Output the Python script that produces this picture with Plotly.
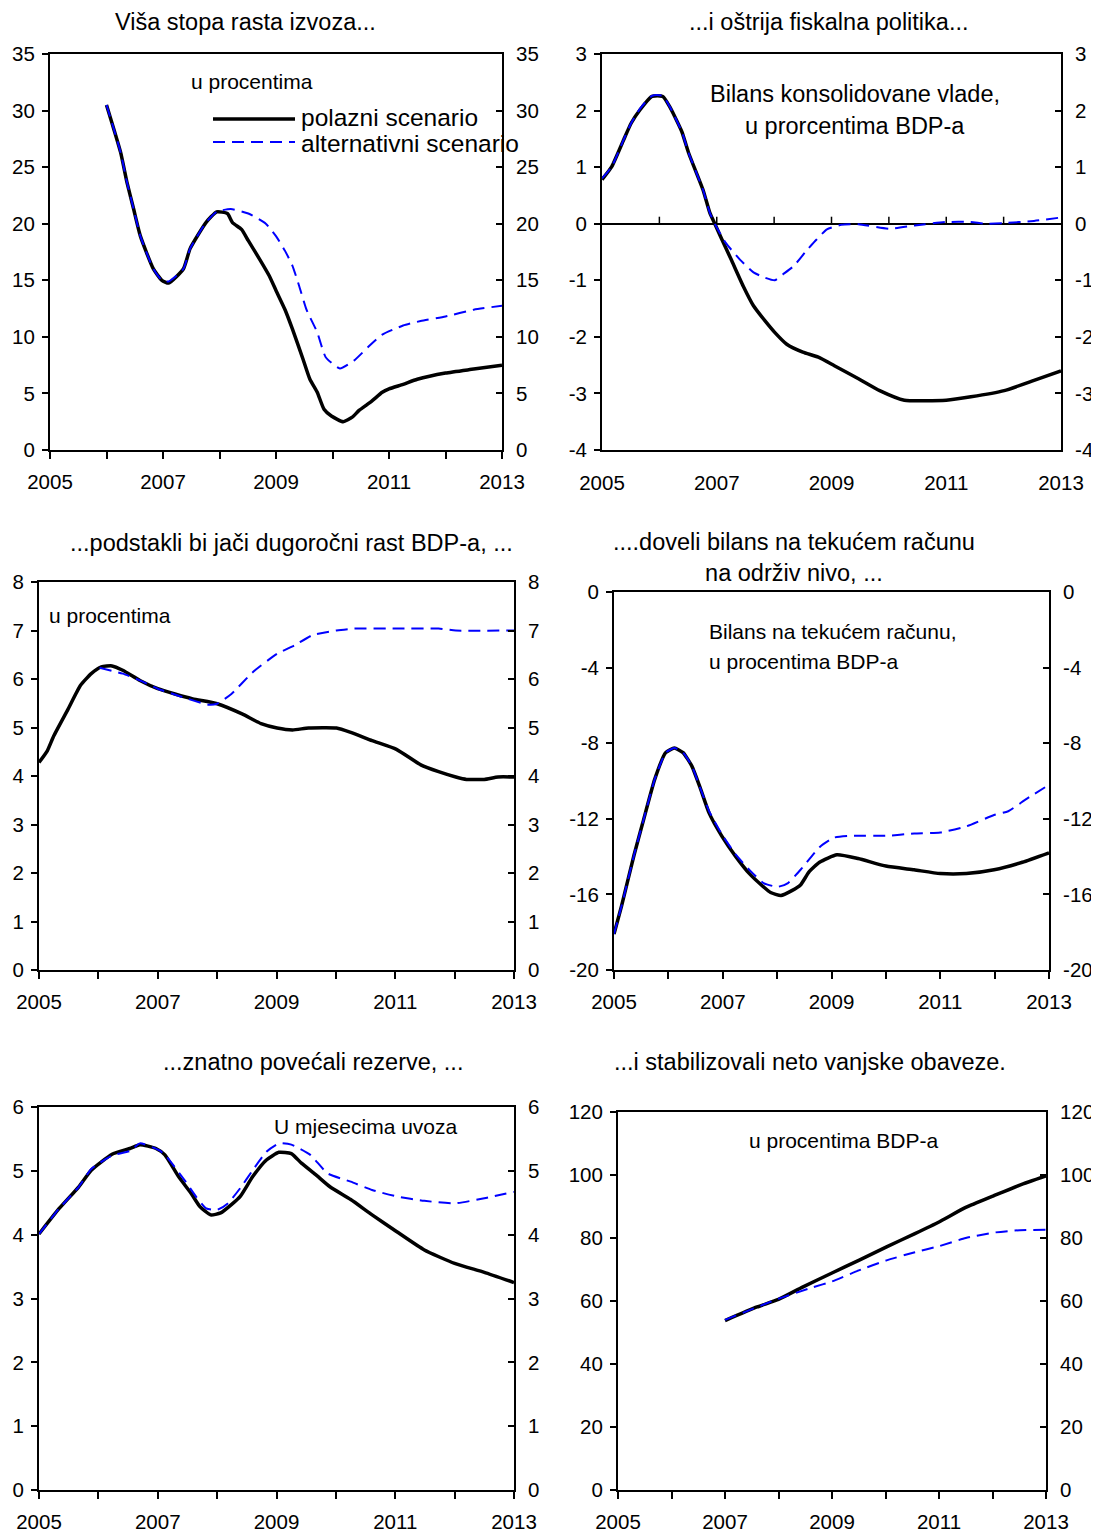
import plotly.graph_objects as go

# ---------------- data ----------------
YEARS = [2005, 2006, 2007, 2008, 2009, 2010, 2011, 2012, 2013]
YEAR_LABELS = ["2005", "", "2007", "", "2009", "", "2011", "", "2013"]

TITLES = [
    "Viša stopa rasta izvoza...",
    "...i oštrija fiskalna politika...",
    "...podstakli bi jači dugoročni rast BDP-a, ...",
    "....doveli bilans na tekućem računu<br>na održiv nivo, ...",
    "...znatno povećali rezerve, ...",
    "...i stabilizovali neto vanjske obaveze.",
]
SERIES_NAMES = ["polazni scenario", "alternativni scenario"]

# Panel 1: export growth
p1_base_x = [2006.0, 2006.25, 2006.36, 2006.48, 2006.6, 2006.83, 2006.98, 2007.1, 2007.36, 2007.48,
             2007.76, 2007.95, 2008.14, 2008.23, 2008.39, 2008.51, 2008.73, 2008.88, 2009.0, 2009.16,
             2009.29, 2009.48, 2009.6, 2009.73, 2009.85, 2009.98, 2010.19, 2010.35, 2010.47, 2010.69,
             2010.88, 2011.0, 2011.25, 2011.5, 2012.0, 2012.5, 2013.0]
p1_base_y = [30.5, 26.3, 23.7, 21.3, 18.9, 16.0, 15.0, 14.75, 16.0, 17.8,
             20.1, 21.05, 20.9, 20.1, 19.5, 18.5, 16.7, 15.4, 14.1, 12.4,
             10.7, 8.0, 6.25, 5.1, 3.6, 3.0, 2.5, 2.9, 3.5, 4.3,
             5.1, 5.4, 5.8, 6.25, 6.8, 7.15, 7.5]
p1_alt_x = [2006.0, 2006.25, 2006.36, 2006.48, 2006.6, 2006.83, 2006.98, 2007.1, 2007.36, 2007.48,
            2007.76, 2007.95, 2008.2, 2008.51, 2008.82, 2009.0, 2009.16, 2009.29, 2009.41, 2009.54,
            2009.73, 2009.88, 2010.13, 2010.38, 2010.63, 2010.88, 2011.25, 2011.56, 2012.0, 2012.5, 2013.0]
p1_alt_y = [30.5, 26.3, 23.7, 21.3, 18.9, 16.0, 15.0, 14.9, 16.0, 17.8,
            20.1, 21.05, 21.3, 20.9, 20.0, 18.9, 17.6, 16.3, 14.5, 12.4,
            10.4, 8.2, 7.2, 7.9, 9.1, 10.2, 11.0, 11.4, 11.8, 12.4, 12.75]

# Panel 2: fiscal balance
p2_base_x = [2005.0, 2005.17, 2005.38, 2005.51, 2005.66, 2005.87, 2006.06, 2006.18, 2006.39, 2006.51,
             2006.76, 2006.88, 2006.97, 2007.09, 2007.25, 2007.46, 2007.64, 2007.86, 2008.01, 2008.22,
             2008.5, 2008.77, 2009.05, 2009.47, 2009.84, 2010.27, 2011.0, 2011.43, 2012.01, 2012.53, 2013.0]
p2_base_y = [0.78, 1.01, 1.49, 1.78, 2.01, 2.25, 2.25, 2.07, 1.63, 1.25,
             0.6, 0.19, -0.01, -0.28, -0.63, -1.1, -1.45, -1.74, -1.92, -2.13,
             -2.27, -2.36, -2.51, -2.74, -2.95, -3.12, -3.12, -3.06, -2.95, -2.77, -2.6]
p2_alt_x = [2005.0, 2005.17, 2005.38, 2005.51, 2005.66, 2005.87, 2006.06, 2006.18, 2006.39, 2006.51,
            2006.76, 2006.88, 2006.97, 2007.15, 2007.4, 2007.64, 2007.83, 2008.01, 2008.16, 2008.34,
            2008.56, 2008.74, 2008.92, 2009.17, 2009.47, 2010.02, 2010.45, 2011.0, 2011.43, 2011.67,
            2012.0, 2012.53, 2013.0]
p2_alt_y = [0.8, 1.01, 1.49, 1.78, 2.03, 2.26, 2.26, 2.07, 1.63, 1.25,
            0.6, 0.19, -0.01, -0.33, -0.63, -0.86, -0.95, -1.0, -0.89, -0.75,
            -0.48, -0.28, -0.1, -0.02, -0.01, -0.09, -0.03, 0.03, 0.03, 0.0,
            0.01, 0.05, 0.11]

# Panel 3: GDP growth
p3_base_x = [2005.0, 2005.14, 2005.25, 2005.49, 2005.7, 2005.88, 2006.05, 2006.23, 2006.41, 2006.7,
             2007.0, 2007.29, 2007.59, 2008.0, 2008.42, 2008.74, 2009.01, 2009.27, 2009.54, 2010.01,
             2010.25, 2010.61, 2011.02, 2011.43, 2011.73, 2012.02, 2012.2, 2012.5, 2012.73, 2013.0]
p3_base_y = [4.28, 4.52, 4.83, 5.38, 5.87, 6.11, 6.25, 6.27, 6.18, 5.97,
             5.8, 5.69, 5.59, 5.49, 5.28, 5.08, 4.99, 4.95, 4.99, 4.99,
             4.9, 4.73, 4.55, 4.23, 4.09, 3.98, 3.93, 3.93, 3.98, 3.98]
p3_alt_x = [2006.02, 2006.41, 2006.7, 2007.0, 2007.41, 2007.85, 2008.0, 2008.24, 2008.6, 2009.01,
            2009.3, 2009.6, 2010.01, 2010.31, 2011.02, 2011.73, 2012.02, 2013.0]
p3_alt_y = [6.23, 6.11, 5.97, 5.8, 5.63, 5.47, 5.49, 5.69, 6.14, 6.52,
            6.69, 6.9, 7.0, 7.04, 7.04, 7.04, 7.0, 7.0]

# Panel 4: current account balance
p4_base_x = [2005.0, 2005.14, 2005.37, 2005.53, 2005.75, 2005.95, 2006.11, 2006.27, 2006.43, 2006.59,
             2006.75, 2006.98, 2007.24, 2007.49, 2007.75, 2007.88, 2008.07, 2008.27, 2008.43, 2008.59,
             2008.78, 2009.1, 2009.49, 2010.0, 2010.52, 2011.0, 2011.48, 2011.99, 2012.51, 2013.0]
p4_base_y = [-18.1, -16.6, -13.9, -12.2, -9.9, -8.5, -8.26, -8.5, -9.2, -10.4,
             -11.7, -12.9, -14.0, -14.9, -15.6, -15.9, -16.06, -15.8, -15.5, -14.8,
             -14.3, -13.9, -14.1, -14.5, -14.7, -14.9, -14.9, -14.7, -14.3, -13.8]
p4_alt_x = [2005.0, 2005.14, 2005.37, 2005.53, 2005.75, 2005.95, 2006.11, 2006.27, 2006.43, 2006.59,
            2006.75, 2006.98, 2007.24, 2007.49, 2007.75, 2008.01, 2008.2, 2008.46, 2008.78, 2009.04,
            2009.36, 2010.0, 2010.52, 2011.0, 2011.48, 2011.99, 2012.25, 2012.58, 2013.0]
p4_alt_y = [-18.1, -16.6, -13.9, -12.2, -9.9, -8.5, -8.26, -8.5, -9.2, -10.4,
            -11.6, -12.8, -13.9, -14.7, -15.4, -15.6, -15.4, -14.6, -13.5, -13.0,
            -12.9, -12.9, -12.78, -12.72, -12.4, -11.8, -11.6, -10.96, -10.2]

# Panel 5: reserves (months of imports)
p5_base_x = [2005.0, 2005.34, 2005.67, 2005.88, 2006.23, 2006.53, 2006.7, 2006.97, 2007.12, 2007.35,
             2007.56, 2007.71, 2007.89, 2008.06, 2008.24, 2008.39, 2008.6, 2008.83, 2009.04, 2009.25,
             2009.42, 2009.66, 2009.9, 2010.25, 2010.61, 2011.02, 2011.49, 2012.0, 2012.5, 2013.0]
p5_base_y = [4.01, 4.41, 4.75, 5.01, 5.26, 5.35, 5.41, 5.35, 5.25, 4.91,
             4.65, 4.44, 4.31, 4.34, 4.47, 4.6, 4.91, 5.17, 5.29, 5.27,
             5.12, 4.94, 4.75, 4.55, 4.31, 4.05, 3.76, 3.55, 3.41, 3.25]
p5_alt_x = [2005.0, 2005.34, 2005.67, 2005.88, 2006.23, 2006.53, 2006.7, 2007.03, 2007.15, 2007.47,
            2007.65, 2007.82, 2008.0, 2008.18, 2008.39, 2008.6, 2008.83, 2009.04, 2009.25, 2009.57,
            2009.86, 2010.25, 2010.61, 2011.02, 2011.49, 2012.0, 2012.5, 2013.0]
p5_alt_y = [4.01, 4.41, 4.75, 5.03, 5.24, 5.31, 5.43, 5.32, 5.22, 4.83,
            4.59, 4.41, 4.39, 4.49, 4.73, 5.01, 5.3, 5.43, 5.41, 5.25,
            4.96, 4.83, 4.7, 4.6, 4.53, 4.49, 4.57, 4.67]

# Panel 6: net external liabilities
p6_base_x = [2007.0, 2007.6, 2008.0, 2008.45, 2009.0, 2009.5, 2010.02, 2010.55, 2011.0, 2011.5,
             2012.02, 2012.51, 2013.0]
p6_base_y = [53.8, 58.1, 60.5, 64.4, 68.9, 72.9, 77.2, 81.4, 85.1, 89.7,
             93.4, 96.8, 99.7]
p6_alt_x = [2007.0, 2008.0, 2008.65, 2009.0, 2009.5, 2010.02, 2010.55, 2011.0, 2011.5, 2012.02,
            2012.51, 2013.0]
p6_alt_y = [54.0, 60.7, 64.4, 66.2, 69.7, 72.9, 75.5, 77.4, 80.0, 81.7,
            82.5, 82.6]

# y tick values per panel (same on left and right axis)
p1_ticks = [0, 5, 10, 15, 20, 25, 30, 35]
p2_ticks = [-4, -3, -2, -1, 0, 1, 2, 3]
p3_ticks = [0, 1, 2, 3, 4, 5, 6, 7, 8]
p4_ticks = [-20, -16, -12, -8, -4, 0]
p5_ticks = [0, 1, 2, 3, 4, 5, 6]
p6_ticks = [0, 20, 40, 60, 80, 100, 120]

# ---------------- layout helpers ----------------
PAGE_W, PAGE_H = 1099, 1533
OFF = 8  # default body margin of the html page
W, H = PAGE_W - OFF, PAGE_H - OFF
FONT = "Liberation Sans, Arial, sans-serif"
TICK_FONT = dict(family=FONT, size=20.5, color="black")


def px_x(p):
    return (p - OFF) / W


def px_y(p):
    return 1 - (p - OFF) / H


panels = [
    dict(bx=p1_base_x, by=p1_base_y, ax=p1_alt_x, ay=p1_alt_y, ticks=p1_ticks,
         xpx=(50, 502), ypx=(54, 450), zero=False),
    dict(bx=p2_base_x, by=p2_base_y, ax=p2_alt_x, ay=p2_alt_y, ticks=p2_ticks,
         xpx=(602, 1061), ypx=(54, 450), zero=True),
    dict(bx=p3_base_x, by=p3_base_y, ax=p3_alt_x, ay=p3_alt_y, ticks=p3_ticks,
         xpx=(39, 514), ypx=(582, 970), zero=False),
    dict(bx=p4_base_x, by=p4_base_y, ax=p4_alt_x, ay=p4_alt_y, ticks=p4_ticks,
         xpx=(614, 1049), ypx=(592, 970), zero=False),
    dict(bx=p5_base_x, by=p5_base_y, ax=p5_alt_x, ay=p5_alt_y, ticks=p5_ticks,
         xpx=(39, 514), ypx=(1107, 1490), zero=False),
    dict(bx=p6_base_x, by=p6_base_y, ax=p6_alt_x, ay=p6_alt_y, ticks=p6_ticks,
         xpx=(618, 1046), ypx=(1112, 1490), zero=False),
]

fig = go.Figure()
layout = {}
shapes = []

for i, p in enumerate(panels, start=1):
    xs = f"x{i}"
    ys = f"y{i}"
    ys_r = f"y{i + 6}"
    # baseline on the left axis, alternative on the right axis (identical scale)
    fig.add_trace(go.Scatter(x=p["bx"], y=p["by"], xaxis=xs, yaxis=ys, mode="lines",
                             name=SERIES_NAMES[0], showlegend=False,
                             line=dict(color="black", width=3.5, shape="spline", smoothing=0.5)))
    fig.add_trace(go.Scatter(x=p["ax"], y=p["ay"], xaxis=xs, yaxis=ys_r, mode="lines",
                             name=SERIES_NAMES[1], showlegend=False,
                             line=dict(color="#0000FF", width=2, dash="12px,7px",
                                       shape="spline", smoothing=0.5)))
    xdom = [px_x(p["xpx"][0]), px_x(p["xpx"][1])]
    ydom = [px_y(p["ypx"][1]), px_y(p["ypx"][0])]
    yr = [p["ticks"][0], p["ticks"][-1]]
    labels = [str(t) for t in p["ticks"]]
    layout[f"xaxis{i}"] = dict(
        domain=xdom, anchor=ys, range=[2005, 2013], tickmode="array",
        tickvals=YEARS, ticktext=YEAR_LABELS,
        ticks="" if p["zero"] else "outside", ticklen=7, tickwidth=1.5, tickcolor="black",
        showline=True, linecolor="black", linewidth=2, mirror=True,
        showgrid=False, zeroline=False, tickfont=TICK_FONT,
        ticklabelstandoff=13 if p["zero"] else 5,
        automargin=False,
    )
    layout[f"yaxis{i}"] = dict(
        domain=ydom, anchor=xs, range=yr, tickmode="array",
        tickvals=p["ticks"], ticktext=labels,
        ticks="outside", ticklen=6, tickwidth=1.5, tickcolor="black",
        showline=True, linecolor="black", linewidth=2, showgrid=False,
        zeroline=p["zero"], zerolinecolor="black", zerolinewidth=1.5,
        tickfont=TICK_FONT, ticklabelstandoff=3, automargin=False,
    )
    layout[f"yaxis{i + 6}"] = dict(
        overlaying=ys, side="right", anchor=xs, range=yr, tickmode="array",
        tickvals=p["ticks"], ticktext=labels,
        ticks="inside", ticklen=6, tickwidth=1.5, tickcolor="black",
        showline=True, linecolor="black", linewidth=2, showgrid=False, zeroline=False,
        tickfont=TICK_FONT, ticklabelstandoff=8, automargin=False,
    )
    if p["zero"]:
        for yv in YEARS[1:-1]:
            shapes.append(dict(type="line", xref=xs, yref=ys, x0=yv, x1=yv,
                               ysizemode="pixel", yanchor=0, y0=0, y1=7,
                               line=dict(color="black", width=1.5)))

# legend lines in panel 1 (decoration)
shapes.append(dict(type="line", xref="paper", yref="paper",
                   x0=px_x(213), x1=px_x(295), y0=px_y(119), y1=px_y(119),
                   line=dict(color="black", width=3.5)))
shapes.append(dict(type="line", xref="paper", yref="paper",
                   x0=px_x(213), x1=px_x(295), y0=px_y(142), y1=px_y(142),
                   line=dict(color="#0000FF", width=2, dash="12px,7px")))

annotations = []


def ann(text, x, y, size=21, xanchor="left"):
    annotations.append(dict(text=text, x=px_x(x), y=px_y(y), xref="paper", yref="paper",
                            xanchor=xanchor, yanchor="middle", showarrow=False,
                            font=dict(family=FONT, size=size, color="black")))


TITLE_SIZE = 23.5
ann(TITLES[0], 245, 22, TITLE_SIZE, "center")
ann(TITLES[1], 829, 22, TITLE_SIZE, "center")
ann(TITLES[2], 291, 543, TITLE_SIZE, "center")
ann(TITLES[3], 794, 558, TITLE_SIZE, "center")
ann(TITLES[4], 313, 1062, TITLE_SIZE, "center")
ann(TITLES[5], 810, 1062, TITLE_SIZE, "center")

ann("u procentima", 189, 82)
ann(SERIES_NAMES[0], 299, 118, 24.5)
ann(SERIES_NAMES[1], 299, 143, 24.5)
ann("Bilans konsolidovane vlade,", 855, 94, 23.5, "center")
ann("u prorcentima BDP-a", 855, 126, 23.5, "center")
ann("u procentima", 47, 615)
ann("Bilans na tekućem računu,", 707, 631)
ann("u procentima BDP-a", 707, 661)
ann("U mjesecima uvoza", 272, 1126)
ann("u procentima BDP-a", 843, 1140, 21, "center")

fig.update_layout(
    width=W, height=H, margin=dict(l=0, r=0, t=0, b=0, autoexpand=False),
    paper_bgcolor="white", plot_bgcolor="white",
    font=dict(family=FONT, color="black"),
    showlegend=False, shapes=shapes, annotations=annotations,
    **layout,
)

fig.write_html("out.html")
